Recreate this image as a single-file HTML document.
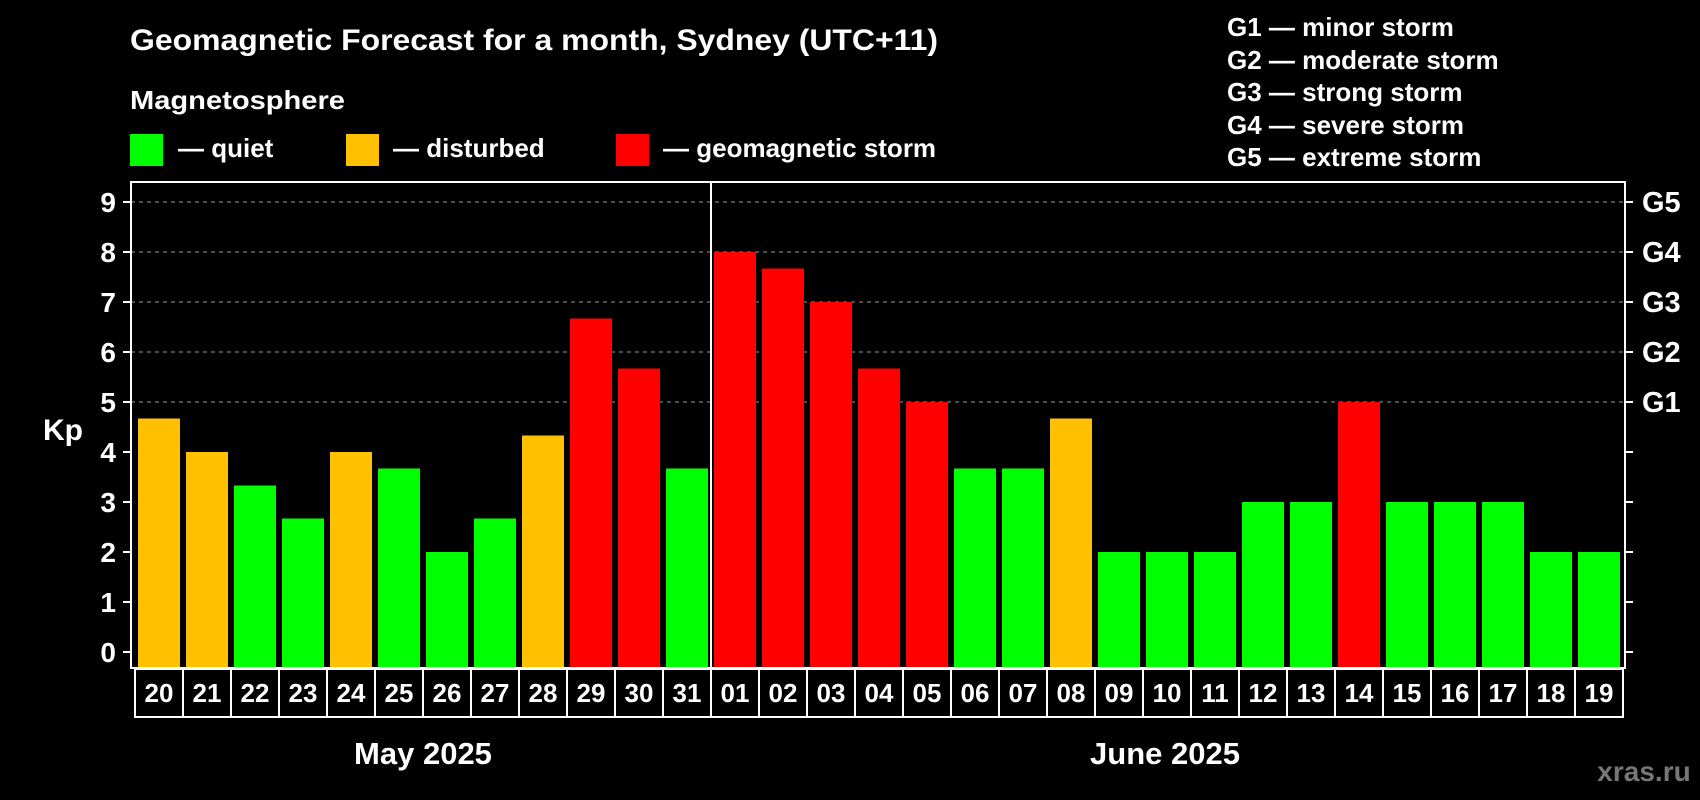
<!DOCTYPE html>
<html><head><meta charset="utf-8"><style>
html,body{margin:0;padding:0;background:#000;}
svg{display:block;font-family:"Liberation Sans",Arial,sans-serif;font-weight:bold;}
</style></head><body>
<svg width="1700" height="800" viewBox="0 0 1700 800">
<rect width="1700" height="800" fill="#000"/>
<text x="130" y="50" fill="#fff" font-size="30" textLength="808" lengthAdjust="spacingAndGlyphs">Geomagnetic Forecast for a month, Sydney (UTC+11)</text>
<text x="130" y="109" fill="#fff" font-size="26" textLength="215" lengthAdjust="spacingAndGlyphs">Magnetosphere</text>
<g><rect x="130" y="134" width="33" height="32" fill="#00ff00"/><text x="178" y="157" fill="#fff" font-size="26">— quiet</text></g>
<g><rect x="346" y="134" width="33" height="32" fill="#ffc000"/><text x="393" y="157" fill="#fff" font-size="26">— disturbed</text></g>
<g><rect x="616" y="134" width="33" height="32" fill="#ff0000"/><text x="663" y="157" fill="#fff" font-size="26">— geomagnetic storm</text></g>
<g fill="#fff" font-size="26">
<text x="1227" y="36">G1 — minor storm</text>
<text x="1227" y="69">G2 — moderate storm</text>
<text x="1227" y="101">G3 — strong storm</text>
<text x="1227" y="134">G4 — severe storm</text>
<text x="1227" y="166">G5 — extreme storm</text>
</g>
<g id="plot"></g>
<text x="423" y="764" fill="#fff" font-size="31" text-anchor="middle">May 2025</text>
<text x="1165" y="764" fill="#fff" font-size="31" text-anchor="middle">June 2025</text>
<text x="1644" y="781" fill="#777" font-size="28" text-anchor="middle">xras.ru</text>
<text x="63" y="440" fill="#fff" font-size="30" text-anchor="middle">Kp</text>
</svg>
<script>
const days=["20","21","22","23","24","25","26","27","28","29","30","31","01","02","03","04","05","06","07","08","09","10","11","12","13","14","15","16","17","18","19"];
const kp=[4.67,4,3.33,2.67,4,3.67,2,2.67,4.33,6.67,5.67,3.67,8,7.67,7,5.67,5,3.67,3.67,4.67,2,2,2,3,3,5,3,3,3,2,2];
const levels=["disturbed","disturbed","quiet","quiet","disturbed","quiet","quiet","quiet","disturbed","storm","storm","quiet","storm","storm","storm","storm","storm","quiet","quiet","disturbed","quiet","quiet","quiet","quiet","quiet","storm","quiet","quiet","quiet","quiet","quiet"];
const yTicks=[0,1,2,3,4,5,6,7,8,9];
const gLabels=[[5,"G1"],[6,"G2"],[7,"G3"],[8,"G4"],[9,"G5"]];
const NS="http://www.w3.org/2000/svg";
const g=document.getElementById("plot");
const colors={quiet:"#00ff00",disturbed:"#ffc000",storm:"#ff0000"};
const L=131,R=1625,T=182,B=668;
const y=v=>652-v*50;
const x=i=>138+i*48;
function mk(t,a){const e=document.createElementNS(NS,t);for(const k in a)e.setAttribute(k,a[k]);g.appendChild(e);return e;}
yTicks.forEach(v=>{
  if(v>=5){const l=mk("line",{x1:L,x2:R,y1:y(v),y2:y(v),stroke:"#999","stroke-dasharray":"4,4","stroke-width":1});
  
  }
  mk("line",{x1:L-8,x2:L,y1:y(v),y2:y(v),stroke:"#fff","stroke-width":2});
  mk("line",{x1:R,x2:R+8,y1:y(v),y2:y(v),stroke:"#fff","stroke-width":2});
  const t=mk("text",{x:L-15,y:y(v)+10,fill:"#fff","font-size":28,"text-anchor":"end"});t.textContent=v;
  
  
});
gLabels.forEach(([v,s])=>{
  const t=mk("text",{x:R+17,y:y(v)+10,fill:"#fff","font-size":29});t.textContent=s;
  
  
});
kp.forEach((v,i)=>{
  const r=mk("rect",{x:x(i),y:y(v),width:42,height:B-y(v),fill:colors[levels[i]]});
  
  
  const c=mk("rect",{x:135+i*48,y:669,width:48,height:48,fill:"none",stroke:"#fff","stroke-width":2});
  
  
  const t=mk("text",{x:159+i*48,y:702,fill:"#fff","font-size":26,"text-anchor":"middle"});t.textContent=days[i];
  
  
});
const f=mk("rect",{x:L,y:T,width:R-L,height:B-T,fill:"none",stroke:"#fff","stroke-width":2});


const d=mk("line",{x1:711,x2:711,y1:T,y2:B,stroke:"#fff","stroke-width":2});


</script>
</body></html>
